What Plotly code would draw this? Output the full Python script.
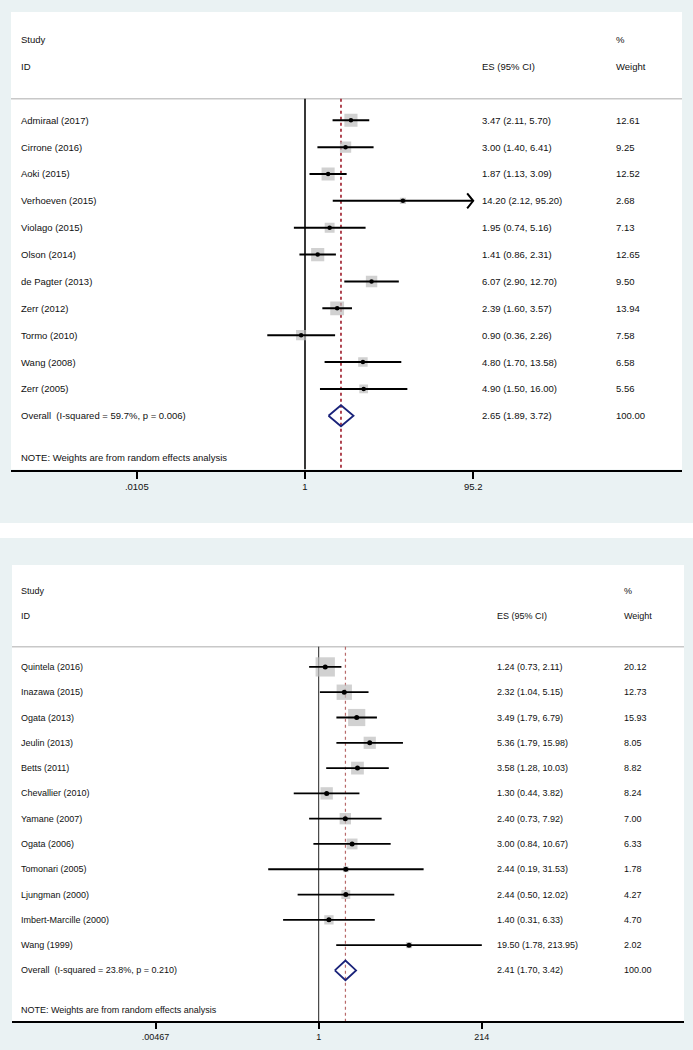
import numpy as np
import plotly.graph_objects as go

# ---------------- data: panel A ----------------
studies_a = ["Admiraal (2017)", "Cirrone (2016)", "Aoki (2015)", "Verhoeven (2015)",
             "Violago (2015)", "Olson (2014)", "de Pagter (2013)", "Zerr (2012)",
             "Tormo (2010)", "Wang (2008)", "Zerr (2005)"]
es_a = [3.47, 3.00, 1.87, 14.20, 1.95, 1.41, 6.07, 2.39, 0.90, 4.80, 4.90]
lo_a = [2.11, 1.40, 1.13, 2.12, 0.74, 0.86, 2.90, 1.60, 0.36, 1.70, 1.50]
hi_a = [5.70, 6.41, 3.09, 95.20, 5.16, 2.31, 12.70, 3.57, 2.26, 13.58, 16.00]
wt_a = [12.61, 9.25, 12.52, 2.68, 7.13, 12.65, 9.50, 13.94, 7.58, 6.58, 5.56]
overall_a = [2.65, 1.89, 3.72]
overall_wt_a = 100.00
overall_label_a = "Overall\u00a0\u00a0(I-squared = 59.7%, p = 0.006)"
tickvals_a = [0.0105, 1, 95.2]
ticktext_a = [".0105", "1", "95.2"]

# ---------------- data: panel B ----------------
studies_b = ["Quintela (2016)", "Inazawa (2015)", "Ogata (2013)", "Jeulin (2013)",
             "Betts (2011)", "Chevallier (2010)", "Yamane (2007)", "Ogata (2006)",
             "Tomonari (2005)", "Ljungman (2000)", "Imbert-Marcille (2000)", "Wang (1999)"]
es_b = [1.24, 2.32, 3.49, 5.36, 3.58, 1.30, 2.40, 3.00, 2.44, 2.44, 1.40, 19.50]
lo_b = [0.73, 1.04, 1.79, 1.79, 1.28, 0.44, 0.73, 0.84, 0.19, 0.50, 0.31, 1.78]
hi_b = [2.11, 5.15, 6.79, 15.98, 10.03, 3.82, 7.92, 10.67, 31.53, 12.02, 6.33, 213.95]
wt_b = [20.12, 12.73, 15.93, 8.05, 8.82, 8.24, 7.00, 6.33, 1.78, 4.27, 4.70, 2.02]
overall_b = [2.41, 1.70, 3.42]
overall_wt_b = 100.00
overall_label_b = "Overall\u00a0\u00a0(I-squared = 23.8%, p = 0.210)"
tickvals_b = [0.00467, 1, 214]
ticktext_b = [".00467", "1", "214"]

note_text = "NOTE: Weights are from random effects analysis"

# ---------------- geometry / style ----------------
W, H = 693, 1050
BG = "#EAF2F3"
TXT = "#111111"
FONT = "Liberation Sans, Arial, sans-serif"

panels = [
    dict(studies=studies_a, es=es_a, lo=lo_a, hi=hi_a, wt=wt_a, overall=overall_a,
         owt=overall_wt_a, olabel=overall_label_a, tv=tickvals_a, tt=ticktext_a,
         bg=(0, 523), white=(11, 682, 12, 469.5), x1px=305, ppd=85,
         fs=9.5, col_es=481, col_w=615, col_lab=20, box=3.7, dot=4.5, ciw=2.0,
         refw=1.8, dashw=1.8, dashc="#A8323F", axw=2.0, ticklen=7),
    dict(studies=studies_b, es=es_b, lo=lo_b, hi=hi_b, wt=wt_b, overall=overall_b,
         owt=overall_wt_b, olabel=overall_label_b, tv=tickvals_b, tt=ticktext_b,
         bg=(538, 1050), white=(12, 684, 565, 1021), x1px=318.7, ppd=70,
         fs=9.0, col_es=496, col_w=623, col_lab=20, box=4.3, dot=5, ciw=1.8,
         refw=1.0, dashw=1.2, dashc="#B86A6A", axw=1.6, ticklen=6),
]

fig = go.Figure()
shapes = []
annotations = []
layout_axes = {}

for p_i, P in enumerate(panels):
    sfx = "" if p_i == 0 else str(p_i + 1)
    xa, ya = "x" + sfx, "y" + sfx
    n = len(P["studies"])
    rows = list(range(n))
    y_over = n
    y_note = n + 1.55
    y_sep = -0.8
    y_bot = n + 2
    y_top = -4.03
    xl, xr, yt, yb = P["white"]
    xr_log = ((xl - P["x1px"]) / P["ppd"], (xr - P["x1px"]) / P["ppd"])
    x_min, x_max = 10 ** xr_log[0], 10 ** xr_log[1]

    # backgrounds
    shapes.append(dict(type="rect", xref="paper", yref="paper", layer="below",
                       x0=0, x1=1, y0=1 - P["bg"][1] / H, y1=1 - P["bg"][0] / H,
                       fillcolor=BG, line=dict(width=0)))
    shapes.append(dict(type="rect", xref="paper", yref="paper", layer="below",
                       x0=xl / W, x1=xr / W, y0=1 - yb / H, y1=1 - yt / H,
                       fillcolor="white", line=dict(width=0)))

    # separator line
    fig.add_trace(go.Scatter(x=[x_min, x_max], y=[y_sep, y_sep], mode="lines",
                             line=dict(color="#C8C8C8", width=1.5), xaxis=xa, yaxis=ya,
                             hoverinfo="skip", showlegend=False, cliponaxis=False))
    # reference line at 1
    fig.add_trace(go.Scatter(x=[1, 1], y=[y_sep, y_bot], mode="lines",
                             line=dict(color="#222222", width=P["refw"]), xaxis=xa, yaxis=ya,
                             hoverinfo="skip", showlegend=False))
    # dashed overall line
    fig.add_trace(go.Scatter(x=[P["overall"][0]] * 2, y=[y_sep, y_bot], mode="lines",
                             line=dict(color=P["dashc"], width=P["dashw"], dash="3px,3px"),
                             xaxis=xa, yaxis=ya, hoverinfo="skip", showlegend=False))
    # boxes
    fig.add_trace(go.Scatter(x=P["es"], y=rows, mode="markers",
                             marker=dict(symbol="square", color="#BEBEBE",
                                         size=[P["box"] * np.sqrt(w) for w in P["wt"]],
                                         line=dict(width=0)),
                             xaxis=xa, yaxis=ya, hoverinfo="skip", showlegend=False))
    # CI lines
    cx, cy = [], []
    ax_, ay_ = [], []
    cap = P["tv"][-1]
    arm_dx = 10 ** (-6.0 / P["ppd"])
    arm_dy = 7.5 / ((yb - yt) / (y_bot - y_top))
    for r, l, h in zip(rows, P["lo"], P["hi"]):
        cx += [l, h, None]
        cy += [r, r, None]
        if h >= cap:
            ax_ += [h * arm_dx, h, h * arm_dx, None]
            ay_ += [r - arm_dy, r, r + arm_dy, None]
    fig.add_trace(go.Scatter(x=cx, y=cy, mode="lines",
                             line=dict(color="black", width=P["ciw"]),
                             xaxis=xa, yaxis=ya, hoverinfo="skip", showlegend=False))
    if ax_:
        fig.add_trace(go.Scatter(x=ax_, y=ay_, mode="lines",
                                 line=dict(color="black", width=P["ciw"]),
                                 xaxis=xa, yaxis=ya, hoverinfo="skip", showlegend=False))
    # point estimate dots
    fig.add_trace(go.Scatter(x=P["es"], y=rows, mode="markers",
                             marker=dict(symbol="circle", color="black", size=P["dot"]),
                             xaxis=xa, yaxis=ya, hoverinfo="skip", showlegend=False))
    # diamond
    oe, ol, oh = P["overall"]
    dh = 0.39
    fig.add_trace(go.Scatter(x=[ol, oe, oh, oe, ol], y=[y_over, y_over - dh, y_over, y_over + dh, y_over],
                             mode="lines", line=dict(color="#1A237A", width=1.8),
                             xaxis=xa, yaxis=ya, hoverinfo="skip", showlegend=False))

    # texts
    def ann(xpx, yv, text):
        annotations.append(dict(xref="paper", yref=ya, x=(xpx - 1) / W, y=yv, text=text,
                                showarrow=False, xanchor="left", yanchor="middle",
                                font=dict(family=FONT, size=P["fs"], color=TXT)))
    ann(P["col_lab"], -3, "Study")
    ann(P["col_lab"], -2, "ID")
    ann(P["col_es"], -2, "ES (95% CI)")
    ann(P["col_w"], -3, "%")
    ann(P["col_w"], -2, "Weight")
    for r, s, e, l, h, w in zip(rows, P["studies"], P["es"], P["lo"], P["hi"], P["wt"]):
        ann(P["col_lab"], r, s)
        ann(P["col_es"], r, f"{e:.2f} ({l:.2f}, {h:.2f})")
        ann(P["col_w"], r, f"{w:.2f}")
    ann(P["col_lab"], y_over, P["olabel"])
    ann(P["col_es"], y_over, f"{oe:.2f} ({ol:.2f}, {oh:.2f})")
    ann(P["col_w"], y_over, f"{P['owt']:.2f}")
    ann(P["col_lab"], y_note, note_text)

    xname = "xaxis" + sfx
    yname = "yaxis" + sfx
    layout_axes[xname] = dict(type="log", range=list(xr_log), domain=[xl / W, xr / W],
                              anchor=ya, showgrid=False, zeroline=False, showline=True,
                              linecolor="black", linewidth=P["axw"], ticks="outside",
                              ticklen=P["ticklen"], tickwidth=1.5, tickcolor="black",
                              tickvals=P["tv"], ticktext=P["tt"],
                              tickfont=dict(family=FONT, size=P["fs"], color=TXT),
                              fixedrange=True)
    layout_axes[yname] = dict(range=[y_bot, y_top], domain=[1 - yb / H, 1 - yt / H],
                              anchor=xa, visible=False, showgrid=False, zeroline=False,
                              fixedrange=True)

fig.update_layout(width=W, height=H, margin=dict(l=0, r=0, t=0, b=0),
                  paper_bgcolor="white", plot_bgcolor="rgba(0,0,0,0)",
                  shapes=shapes, annotations=annotations, showlegend=False,
                  **layout_axes)

fig.write_html("out.html", config={"displayModeBar": False},
               post_script="document.body.style.margin='0px';")
